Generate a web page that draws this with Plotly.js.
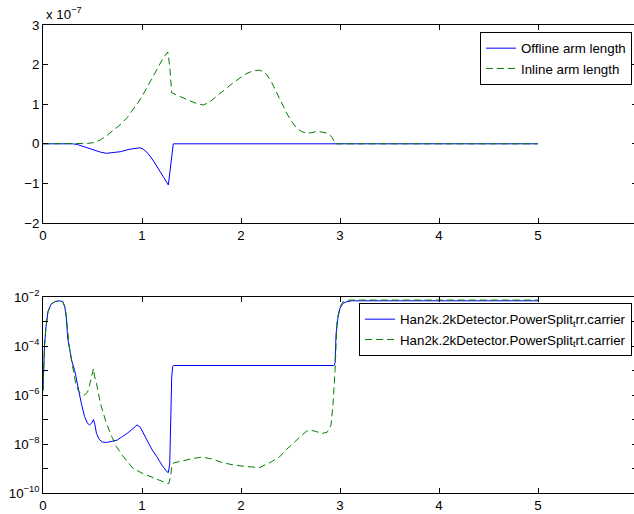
<!DOCTYPE html>
<html>
<head>
<meta charset="utf-8">
<script src="https://cdn.plot.ly/plotly-3.0.1.min.js"></script>
<style>
html,body{margin:0;padding:0;overflow:hidden;background:#fff;}
#chart{width:640px;height:514px;}
</style>
</head>
<body>
<div id="chart"></div>
<script>
// ---------- Top panel (values in units of 1e-7) ----------
const offlineX = [0, 0.3, 0.35, 0.41, 0.51, 0.58, 0.64, 0.7, 0.78, 0.87, 0.95, 0.98, 1.01, 1.06, 1.11, 1.16, 1.215, 1.266, 1.29, 1.316, 5];
const offlineY = [0, 0, -0.02, -0.07, -0.15, -0.21, -0.24, -0.23, -0.2, -0.14, -0.1, -0.1, -0.13, -0.24, -0.41, -0.6, -0.83, -1.04, -0.5, 0, 0];

const inlineX = [0, 0.37, 0.45, 0.51, 0.58, 0.64, 0.71, 0.78, 0.85, 0.91, 0.96, 1.01, 1.06, 1.11, 1.16, 1.215, 1.26, 1.28, 1.3, 1.36, 1.45, 1.55, 1.62, 1.68, 1.75, 1.83, 1.92, 2.0, 2.06, 2.12, 2.18, 2.22, 2.26, 2.31, 2.36, 2.41, 2.46, 2.51, 2.56, 2.61, 2.66, 2.71, 2.76, 2.81, 2.87, 2.91, 2.93, 2.95, 5];
const inlineY = [0, 0, 0.01, 0.03, 0.1, 0.2, 0.33, 0.48, 0.66, 0.86, 1.04, 1.24, 1.47, 1.71, 1.94, 2.17, 2.32, 1.96, 1.29, 1.22, 1.12, 1.02, 0.98, 1.05, 1.2, 1.37, 1.54, 1.68, 1.78, 1.84, 1.86, 1.83, 1.75, 1.55, 1.29, 1.02, 0.78, 0.57, 0.4, 0.31, 0.27, 0.28, 0.31, 0.3, 0.27, 0.19, 0.12, 0, 0];

// ---------- Bottom panel ----------
const rrX = [0, 0.005, 0.015, 0.03, 0.05, 0.08, 0.12, 0.17, 0.2, 0.22, 0.235, 0.25, 0.27, 0.29, 0.32, 0.35, 0.37, 0.39, 0.42, 0.45, 0.47, 0.49, 0.51, 0.525, 0.54, 0.57, 0.6, 0.64, 0.7, 0.75, 0.8, 0.85, 0.9, 0.95, 0.98, 1.02, 1.05, 1.1, 1.15, 1.2, 1.25, 1.266, 1.28, 1.29, 1.3, 1.31, 1.32, 2.94, 2.95, 2.96, 2.98, 3.0, 3.03, 3.07, 3.12, 5];
const rrY = [1.5e-6, 1e-5, 1e-4, 6e-4, 2.5e-3, 5e-3, 6.5e-3, 7e-3, 6.5e-3, 4e-3, 1.5e-3, 2e-4, 6e-5, 2.5e-5, 1e-5, 3e-6, 1e-6, 4e-7, 1.3e-7, 7e-8, 6e-8, 7e-8, 1e-7, 6e-8, 2.7e-8, 1.5e-8, 1.2e-8, 1.15e-8, 1.3e-8, 1.45e-8, 2e-8, 2.7e-8, 4e-8, 6e-8, 5e-8, 2.5e-8, 1.45e-8, 6e-9, 3e-9, 1.4e-9, 7.5e-10, 6.8e-10, 1.5e-9, 1e-7, 5e-6, 1.5e-5, 1.6e-5, 1.6e-5, 2e-5, 3e-4, 1.5e-3, 3.5e-3, 5.5e-3, 6.5e-3, 7e-3, 7e-3];

const rtX = [0, 0.005, 0.015, 0.03, 0.05, 0.08, 0.12, 0.17, 0.2, 0.22, 0.235, 0.25, 0.27, 0.3, 0.33, 0.36, 0.4, 0.42, 0.45, 0.47, 0.49, 0.51, 0.52, 0.54, 0.58, 0.64, 0.7, 0.74, 0.8, 0.91, 1.0, 1.08, 1.15, 1.25, 1.27, 1.29, 1.3, 1.32, 1.4, 1.5, 1.6, 1.7, 1.8, 1.92, 2.05, 2.19, 2.3, 2.39, 2.45, 2.53, 2.6, 2.66, 2.7, 2.75, 2.82, 2.87, 2.91, 2.93, 2.95, 2.97, 3.0, 3.03, 3.1, 5];
const rtY = [1.5e-6, 1e-5, 1e-4, 6e-4, 2.5e-3, 5e-3, 6.5e-3, 7e-3, 6.5e-3, 4e-3, 1.8e-3, 4e-4, 7e-5, 1.4e-5, 3e-6, 1.4e-6, 1e-6, 1e-6, 1.3e-6, 2.5e-6, 5e-6, 1.2e-5, 6e-6, 3e-6, 4.5e-7, 7e-8, 1.8e-8, 8e-9, 3.5e-9, 1e-9, 6.5e-10, 4.7e-10, 3.5e-10, 2.5e-10, 2.4e-10, 5e-10, 1.2e-9, 1.7e-9, 2e-9, 2.5e-9, 2.9e-9, 2.5e-9, 1.8e-9, 1.4e-9, 1.2e-9, 1.1e-9, 1.8e-9, 3e-9, 5.5e-9, 1.05e-8, 2e-8, 3.3e-8, 3.7e-8, 3.3e-8, 2.7e-8, 3e-8, 6e-8, 4.5e-7, 1e-5, 1.1e-3, 4e-3, 6.5e-3, 7.5e-3, 7.5e-3];

const xTicks = [0, 1, 2, 3, 4, 5];
const topYTicks = [-2, -1, 0, 1, 2, 3];
const logMajorVals = [1e-2, 1e-4, 1e-6, 1e-8, 1e-10];
const logMajorText = ['10<sup>\u22122</sup>', '10<sup>\u22124</sup>', '10<sup>\u22126</sup>', '10<sup>\u22128</sup>', '10<sup>\u221210</sup>'];
const logMinorVals = [1e-3, 1e-5, 1e-7, 1e-9];

const names = ['Offline arm length', 'Inline arm length',
  'Han2k.2kDetector.PowerSplit<sub>t</sub>rr.carrier',
  'Han2k.2kDetector.PowerSplit<sub>t</sub>rt.carrier'];

const BLUE = '#0000ff', GREEN = '#008000';
const DASH = '7px,4px';
const FS = 13.3;

const traces = [
  {x: offlineX, y: offlineY, xaxis: 'x', yaxis: 'y', type: 'scatter', mode: 'lines', name: names[0],
   line: {color: BLUE, width: 1}, legend: 'legend'},
  {x: inlineX, y: inlineY, xaxis: 'x', yaxis: 'y', type: 'scatter', mode: 'lines', name: names[1],
   line: {color: GREEN, width: 1, dash: DASH}, legend: 'legend'},
  {x: rrX, y: rrY, xaxis: 'x2', yaxis: 'y2', type: 'scatter', mode: 'lines', name: names[2],
   line: {color: BLUE, width: 1}, legend: 'legend2'},
  {x: rtX, y: rtY, xaxis: 'x2', yaxis: 'y2', type: 'scatter', mode: 'lines', name: names[3],
   line: {color: GREEN, width: 1, dash: DASH}, legend: 'legend2'}
];

const axCommon = {
  showgrid: false, zeroline: false, showline: true, linecolor: '#000', linewidth: 1,
  mirror: 'ticks', ticks: 'inside', ticklen: 5, tickcolor: '#000', tickwidth: 1
};

const layout = {
  width: 640, height: 514,
  margin: {l: 43, r: 3, t: 25, b: 21},
  paper_bgcolor: '#fff', plot_bgcolor: '#fff',
  font: {family: 'Liberation Sans, Arial, sans-serif', size: FS, color: '#000'},
  xaxis: Object.assign({}, axCommon, {domain: [0, 1], range: [0, 6], tickvals: xTicks, anchor: 'y'}),
  yaxis: Object.assign({}, axCommon, {domain: [0.5769, 1], range: [-2, 3], tickvals: topYTicks, anchor: 'x'}),
  xaxis2: Object.assign({}, axCommon, {domain: [0, 1], range: [0, 6], tickvals: xTicks, anchor: 'y2'}),
  yaxis2: Object.assign({}, axCommon, {domain: [0, 0.4188], type: 'log', range: [-10, -2],
     tickmode: 'array', tickvals: logMajorVals, ticktext: logMajorText, anchor: 'x2',
     minor: {tickmode: 'array', tickvals: logMinorVals, ticks: 'inside', ticklen: 5, tickcolor: '#000', tickwidth: 1, showgrid: false}}),
  showlegend: true,
  legend: {x: 0.9916, y: 0.985, xanchor: 'right', yanchor: 'top', bgcolor: '#fff',
     bordercolor: '#000', borderwidth: 1, font: {size: FS}, tracegroupgap: 0, itemwidth: 30},
  legend2: {x: 0.9916, y: 0.4059, xanchor: 'right', yanchor: 'top', bgcolor: '#fff',
     bordercolor: '#000', borderwidth: 1, font: {size: FS}, tracegroupgap: 0, itemwidth: 30},
  annotations: [
    {text: 'x 10<sup>\u22127</sup>', xref: 'paper', yref: 'paper', x: 0.002, y: 1.003,
     xanchor: 'left', yanchor: 'bottom', showarrow: false, font: {size: FS}}
  ]
};

Plotly.newPlot('chart', traces, layout, {staticPlot: true, displayModeBar: false});
</script>
</body>
</html>
